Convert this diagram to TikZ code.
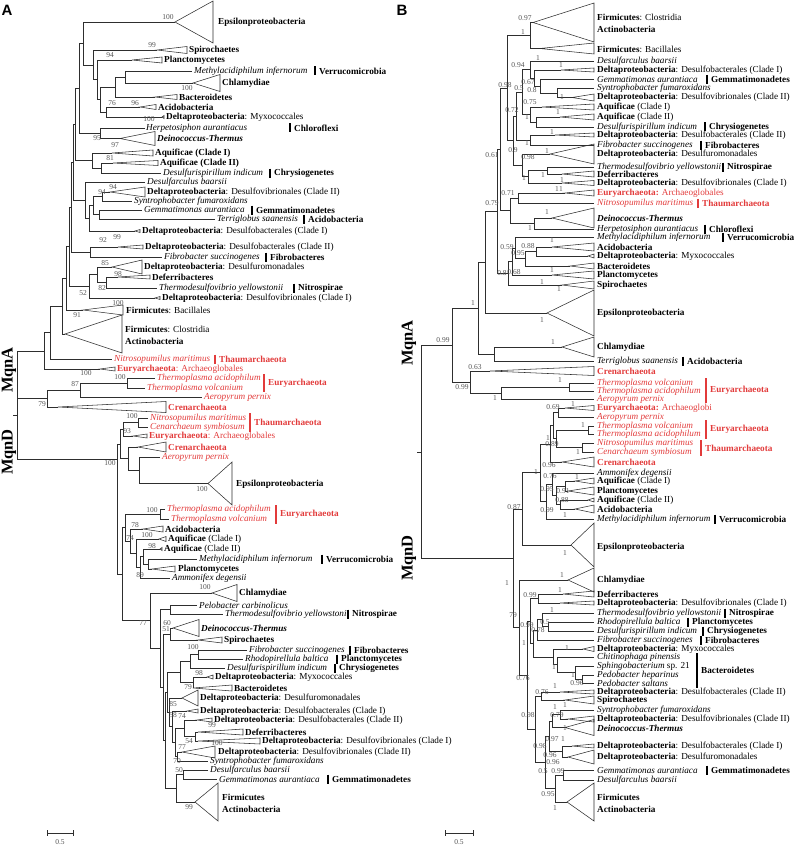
\documentclass[tikz,border=0pt]{standalone}
\usepackage{fontspec}
\setmainfont{Liberation Serif}
\newfontfamily\panelfont{Liberation Sans}
\usepackage{xcolor}
\definecolor{archred}{HTML}{E23B3B}
\definecolor{brgray}{HTML}{2E2E2E}
\definecolor{bsgray}{HTML}{555555}
\newcommand{\lblfont}{\fontsize{9.2}{10}\selectfont}
\newcommand{\bsfont}{\fontsize{7.5}{8}\selectfont}
\newcommand{\dprot}[1]{\textbf{Deltaproteobacteria}: #1}
\newcommand{\archtxt}[1]{\textcolor{archred}{#1}}
% one bifurcation: node x, child 1 (x,y), child 2 (x,y)
\newcommand{\cladeline}[5]{\draw[br] (#2,#3) -| (#1,#5) -- (#4,#5);}

\begin{document}
\begin{tikzpicture}[x=1pt, y=-1pt,
    br/.style={line width=0.55pt, draw=brgray},
    lab/.style={anchor=west, inner sep=0pt, font=\lblfont},
    bs/.style={inner sep=0pt, font=\bsfont, text=bsgray},
    grp/.style={line width=1.3pt},
    mqn/.style={rotate=90, inner sep=0pt, font=\fontsize{16.5}{17}\selectfont\bfseries}]
  \useasboundingbox (0,0) rectangle (794,848);

  % ---------- panel A ----------
  \node[font=\panelfont\fontsize{15}{15}\selectfont\bfseries] (pA) at (7,10) {A};
  \node[mqn] (mqnaA) at (9,370) {MqnA};
  \node[mqn] (mqndA) at (9,452) {MqnD};

  % collapsed clades: apex x / y / right x / half height
  \foreach \a/\m/\r/\h in {175/22/213/21, 157/50/187/3.5, 132/60/162/3, 193/83/220/8.5,
      155/97/177/2.5, 140/107/156/2.5, 162/117/164/1.5, 120/138.5/155/7, 112/153/153/3,
      113/163/158/2.5, 110/192/145/5, 135/231/140/1.5, 118/247/143/2, 112/267/142/7,
      118/277/150/2, 155/298/160/1.5, 83/310/123/5, 65/334/122/19, 100/369/115/2,
      58/407/166/5.5, 133/436/147/2, 138/447/166/5, 208/483.5/232/21.5, 143/529/163/3,
      159/539/166/2.5, 160/549/162/1.5, 152/569/175/3, 212/593/237/8.5, 173/628/199/8.5,
      198/640/222/3, 207/677/213/2, 193/688/232/3, 182/698/198/8, 187/711/198/2,
      197/720/212/2, 198/732/243/3, 198/741/260/3, 182/752/215/6, 195/802/218/19}
    \draw[br] (\a,\m) -- (\r,\m-\h) -- (\r,\m+\h) -- cycle;

  % MqnA
  \cladeline{125}{192}{71}{193}{83}
  \cladeline{115}{125}{77}{155}{97}
  \cladeline{106}{140}{107}{162}{117}
  \cladeline{100}{115}{87}{106}{112}
  \cladeline{97}{132}{60}{100}{99.5}
  \cladeline{93}{157}{50}{97}{79.75}
  \cladeline{83}{175}{22}{93}{64.9}
  \cladeline{100}{145}{128}{120}{138.5}
  \cladeline{79}{83}{43.45}{100}{133.25}
  \cladeline{101}{113}{163}{161}{173}
  \cladeline{92}{112}{153}{101}{168}
  \cladeline{75}{79}{88.35}{92}{160.5}
  \cladeline{102}{110}{192}{132}{201}
  \cladeline{99}{142}{210}{215}{219}
  \cladeline{93}{102}{196.5}{99}{214.5}
  \cladeline{89}{93}{205.5}{135}{231}
  \cladeline{85}{145}{182}{89}{218.25}
  \cladeline{73}{75}{124.4}{85}{200.1}
  \cladeline{90}{118}{247}{162}{257}
  \cladeline{71}{73}{162.25}{90}{252}
  \cladeline{106}{118}{277}{157}{288}
  \cladeline{97}{112}{267}{106}{282.5}
  \cladeline{89}{97}{274.75}{155}{298}
  \cladeline{69}{71}{207.1}{89}{286.4}
  \cladeline{66}{69}{246.75}{83}{310}
  \cladeline{62}{66}{278.4}{65}{334}
  \cladeline{50}{62}{306.2}{112}{359}
  \cladeline{44}{50}{332.6}{100}{369}
  \cladeline{127}{155}{378}{145}{388}
  \cladeline{80}{127}{383}{202}{397}
  \cladeline{47}{80}{390}{58}{407}
  % root
  \draw[br] (44,350.8) -| (17,459) -- (117,459);
  \draw[br] (17,398.5) -- (47,398.5);
  \draw[br] (13,415) -- (17,415);
  % MqnD
  \cladeline{138}{148}{418}{148}{427}
  \cladeline{123}{138}{422.5}{133}{436}
  \cladeline{139}{160}{457}{208}{483.5}
  \cladeline{128}{138}{447}{139}{470.25}
  \cladeline{120}{123}{429.25}{128}{458.6}
  \cladeline{160}{165}{509}{169}{519}
  \cladeline{148}{197}{559}{152}{569}
  \cladeline{143}{160}{549}{148}{564}
  \cladeline{140}{143}{556.5}{170}{578}
  \cladeline{136}{159}{539}{140}{567.25}
  \cladeline{130}{143}{529}{136}{553.1}
  \cladeline{125}{160}{514}{130}{541}
  \cladeline{170}{197}{605}{223}{614}
  \cladeline{170}{173}{628}{198}{640}
  \cladeline{198}{247}{650}{243}{659}
  \cladeline{190}{198}{654.5}{225}{668}
  \cladeline{193}{207}{677}{193}{688}
  \cladeline{180}{190}{661.25}{193}{682.5}
  \cladeline{195}{198}{732}{198}{741}
  \cladeline{184}{197}{720}{195}{736.5}
  \cladeline{177}{182}{752}{208}{761}
  \cladeline{175}{184}{728.25}{177}{756.5}
  \cladeline{172}{187}{711}{175}{742.4}
  \cladeline{169}{182}{698}{172}{726.7}
  \cladeline{167}{180}{671.9}{169}{712.35}
  \cladeline{183}{208}{770}{217}{779}
  \cladeline{176}{183}{774.5}{195}{802}
  \cladeline{165}{167}{692.1}{176}{788.25}
  \cladeline{163}{170}{634}{165}{740.2}
  \cladeline{160}{170}{609.5}{163}{687.1}
  \cladeline{150}{212}{593}{160}{648.3}
  \cladeline{122}{125}{527.5}{150}{620.65}
  \cladeline{117}{120}{443.9}{122}{574.1}

  \foreach \x/\y/\t [count=\i] in {
      218/22/{\textbf{Epsilonproteobacteria}}, 189/50/{\textbf{Spirochaetes}},
      164/60/{\textbf{Planctomycetes}}, 194/71/{\textit{Methylacidiphilum infernorum}},
      222/83/{\textbf{Chlamydiae}}, 179/97/{\textbf{Bacteroidetes}},
      158/107/{\textbf{Acidobacteria}}, 166/117/{\dprot{Myxococcales}},
      146/128/{\textit{Herpetosiphon aurantiacus}}, 157/138.5/{\textbf{\textit{Deinococcus-Thermus}}},
      155/153/{\textbf{Aquificae (Clade I)}}, 160/163/{\textbf{Aquificae (Clade II)}},
      163/173/{\textit{Desulfurispirillum indicum}}, 147/182/{\textit{Desulfarculus baarsii}},
      147/192/{\dprot{Desulfovibrionales (Clade II)}}, 134/201/{\textit{Syntrophobacter fumaroxidans}},
      144/210/{\textit{Gemmatimonas aurantiaca}}, 217/219/{\textit{Terriglobus saanensis}},
      142/231/{\dprot{Desulfobacterales (Clade I)}}, 145/247/{\dprot{Desulfobacterales (Clade II)}},
      164/257/{\textit{Fibrobacter succinogenes}}, 144/267/{\dprot{Desulfuromonadales}},
      152/277/{\textbf{Deferribacteres}}, 159/288/{\textit{Thermodesulfovibrio yellowstonii}},
      162/298/{\dprot{Desulfovibrionales (Clade I)}}, 126/310/{\textbf{Firmicutes}: Bacillales},
      125/329/{\textbf{Firmicutes}: Clostridia}, 125/341/{\textbf{Actinobacteria}},
      114/359/{\archtxt{\textit{Nitrosopumilus maritimus}}},
      117/369/{\archtxt{\textbf{Euryarchaeota}: Archaeoglobales}},
      157/378/{\archtxt{\textit{Thermoplasma acidophilum}}},
      147/388/{\archtxt{\textit{Thermoplasma volcanium}}},
      204/397/{\archtxt{\textit{Aeropyrum pernix}}}, 168/407/{\archtxt{\textbf{Crenarchaeota}}},
      150/418/{\archtxt{\textit{Nitrosopumilus maritimus}}},
      150/427/{\archtxt{\textit{Cenarchaeum symbiosum}}},
      149/436/{\archtxt{\textbf{Euryarchaeota}: Archaeoglobales}},
      168/447/{\archtxt{\textbf{Crenarchaeota}}}, 162/457/{\archtxt{\textit{Aeropyrum pernix}}},
      236/484/{\textbf{Epsilonproteobacteria}},
      167/509/{\archtxt{\textit{Thermoplasma acidophilum}}},
      171/519/{\archtxt{\textit{Thermoplasma volcanium}}},
      165/529/{\textbf{Acidobacteria}}, 168/539/{\textbf{Aquificae} (Clade I)},
      164/549/{\textbf{Aquificae} (Clade II)}, 199/559/{\textit{Methylacidiphilum infernorum}},
      178/569/{\textbf{Planctomycetes}}, 172/578/{\textit{Ammonifex degensii}},
      239/593/{\textbf{Chlamydiae}}, 199/605/{\textit{Pelobacter carbinolicus}},
      225/614/{\textit{Thermodesulfovibrio yellowstonii}}, 201/628/{\textbf{\textit{Deinococcus-Thermus}}},
      224/640/{\textbf{Spirochaetes}}, 249/650/{\textit{Fibrobacter succinogenes}},
      245/659/{\textit{Rhodopirellula baltica}}, 227/668/{\textit{Desulfurispirillum indicum}},
      215/677/{\dprot{Myxococcales}}, 234/688/{\textbf{Bacteroidetes}},
      200/698/{\dprot{Desulfuromonadales}}, 200/711/{\dprot{Desulfobacterales (Clade I)}},
      214/720/{\dprot{Desulfobacterales (Clade II)}}, 245/732/{\textbf{Deferribacteres}},
      262/741/{\dprot{Desulfovibrionales (Clade I)}}, 218/752/{\dprot{Desulfovibrionales (Clade II)}},
      210/761/{\textit{Syntrophobacter fumaroxidans}}, 210/770/{\textit{Desulfarculus baarsii}},
      219/779/{\textit{Gemmatimonas aurantiaca}}, 222/797/{\textbf{Firmicutes}},
      222/809/{\textbf{Actinobacteria}}}
    \node[lab] (la\i) at (\x,\y) {\t};

  % group bars
  \foreach \x/\ya/\yb/\c/\t [count=\i] in {
      315/66.5/75.5/black/Verrucomicrobia, 290/123.5/132.5/black/Chloroflexi,
      270/168.5/177.5/black/Chrysiogenetes, 252/205.5/214.5/black/Gemmatimonadetes,
      304/214.5/223.5/black/Acidobacteria, 266/252.5/261.5/black/Fibrobacteres,
      294/283.5/292.5/black/Nitrospirae, 215/354.5/363.5/archred/Thaumarchaeota,
      264/374/392/archred/Euryarchaeota, 250/413/432/archred/Thaumarchaeota,
      276/505/524/archred/Euryarchaeota, 322/554.5/563.5/black/Verrucomicrobia,
      348/609.5/618.5/black/Nitrospirae, 350/645.5/654.5/black/Fibrobacteres,
      337/654.5/663.5/black/Planctomycetes, 335/663.5/672.5/black/Chrysiogenetes,
      328/774.5/783.5/black/Gemmatimonadetes}
    {\draw[grp, draw=\c] (\x,\ya) -- (\x,\yb);
     \node[lab, text=\c, font=\lblfont\bfseries] (ga\i) at ({\x+4},{(\ya+\yb)/2}) {\t};}

  \foreach \x/\y/\t [count=\i] in {168/17/100, 152/45/99, 110/55/94, 187/88/100, 112/103/76,
      135/103/96, 149/119/100, 97/138/95, 115/145/97, 110/158/81, 113/187/94, 102/192/94,
      103/240/92, 117/237/99, 105/263/85, 118/274/98, 102/288/82, 83/293/52, 118/303/100,
      77/315/91, 86/373/100, 120/377/100, 75/384/87, 42/404/79, 132/416/100, 127/431/93,
      110/463/100, 202/489/100, 152/510/100, 135/525/78, 147/535/100, 130/538/74,
      152/546/98, 140/575/89, 205/587/100, 143/623/77, 167/623/60, 166/629/51,
      193/647/100, 199/673/98, 188/687/79, 173/704/85, 173/715/58, 182/716/74,
      212/725/99, 189/741/54, 217/743/100, 182/747/77, 177/761/70, 179/770/50, 189/807/99}
    \node[bs] (bsa\i) at (\x,\y) {\t};

  \draw[br] (47,833) -- (73,833);
  \draw[br] (47,830) -- (47,836);
  \draw[br] (73,830) -- (73,836);
  \node[bs] (scaleA) at (60,842) {0.5};

  % ---------- panel B ----------
  \node[font=\panelfont\fontsize{15}{15}\selectfont\bfseries] (pB) at (402,10) {B};
  \node[mqn] (mqnaB) at (409,343) {MqnA};
  \node[mqn] (mqndB) at (409,558) {MqnD};

  \foreach \a/\m/\h in {533/22.5/19.5, 540/48.5/5.5, 561/70/2, 572/97.5/3.5, 542/107/3,
      560/117/3, 555/135/2, 550/154/10, 562/174/3, 562/183/2.5, 565/193/3, 552/218/10,
      552/247/4, 588/256/2, 570/266/3, 552/275/4, 562/285/4, 547/313/23, 562/347/10,
      490/371/4.5, 565/408/2.5, 562/462/5, 575/481/3, 568/491/4, 588/500/2, 575/509/4,
      571/545/22, 568/580/12, 563/594/3, 560/603/2, 583/649/2.5, 560/692/2, 565/700/4,
      568/719/3, 565/727.5/8, 572/746/2, 568/757/7, 567/802/19}
    \draw[br] (\a,\m) -- (594,\m-\h) -- (594,\m+\h) -- cycle;

  % MqnA
  \cladeline{530}{533}{22.5}{540}{48.5}
  \cladeline{557}{594}{88.5}{572}{97.5}
  \cladeline{540}{594}{79.5}{557}{93}
  \cladeline{534}{561}{70}{540}{86.25}
  \cladeline{530}{594}{61}{534}{78.1}
  \cladeline{536}{560}{117}{594}{127}
  \cladeline{530}{542}{107}{536}{122}
  \cladeline{522}{530}{69.6}{530}{114.5}
  \cladeline{530}{555}{135}{594}{145}
  \cladeline{516}{522}{92}{530}{140}
  \cladeline{547}{594}{167}{562}{174}
  \cladeline{528}{547}{170.5}{562}{183}
  \cladeline{522}{550}{154}{528}{176.75}
  \cladeline{513}{516}{116}{522}{165.4}
  \cladeline{507}{530}{35.5}{513}{140.7}
  \cladeline{518}{565}{193}{594}{203}
  \cladeline{534}{552}{218}{594}{229}
  \cladeline{510}{518}{198}{534}{223.5}
  \cladeline{500}{507}{88.1}{510}{210.75}
  \cladeline{536}{552}{247}{588}{256}
  \cladeline{525}{536}{251.5}{570}{266}
  \cladeline{515}{594}{237}{525}{258.75}
  \cladeline{512}{515}{247.9}{552}{275}
  \cladeline{508}{512}{261.4}{562}{285}
  \cladeline{497}{500}{149.4}{508}{273.2}
  \cladeline{485}{497}{211.3}{547}{313}
  \cladeline{494}{562}{347}{594}{361}
  \cladeline{478}{485}{262.2}{494}{354}
  \cladeline{569}{594}{383}{594}{391}
  \cladeline{501}{569}{387}{594}{399}
  \cladeline{470}{490}{371}{501}{393}
  \cladeline{452}{478}{308.1}{470}{382}
  % root
  \draw[br] (452,345) -| (421,558) -- (513,558);
  \draw[br] (417,452) -- (421,452);
  % MqnD
  \cladeline{558}{565}{408}{594}{417}
  \cladeline{588}{594}{426}{594}{434}
  \cladeline{582}{594}{443}{594}{452}
  \cladeline{556}{588}{430}{582}{447.5}
  \cladeline{553}{558}{412.5}{556}{438.75}
  \cladeline{550}{553}{425.6}{562}{462}
  \cladeline{565}{575}{481}{568}{491}
  \cladeline{560}{588}{500}{575}{509}
  \cladeline{556}{565}{486}{560}{504.5}
  \cladeline{552}{594}{473}{556}{495.25}
  \cladeline{546}{552}{484.1}{594}{519}
  \cladeline{540}{550}{443.8}{546}{501.6}
  \cladeline{522}{540}{472.7}{571}{545}
  \cladeline{538}{563}{594}{560}{603}
  \cladeline{548}{594}{622}{594}{631}
  \cladeline{542}{594}{613}{548}{626.5}
  \cladeline{537}{542}{619.75}{594}{640}
  \cladeline{582}{594}{675}{594}{683}
  \cladeline{575}{594}{666}{582}{679}
  \cladeline{557}{594}{657}{575}{672.5}
  \cladeline{553}{583}{649}{557}{664.75}
  \cladeline{533}{537}{629.9}{553}{656.9}
  \cladeline{530}{538}{598.5}{533}{643.4}
  \cladeline{560}{594}{710}{568}{719}
  \cladeline{552}{560}{714.5}{565}{727.5}
  \cladeline{562}{572}{746}{568}{757}
  \cladeline{549}{552}{721}{562}{751.5}
  \cladeline{563}{594}{770}{594}{780}
  \cladeline{555}{563}{775}{567}{802}
  \cladeline{545}{549}{736.25}{555}{788.5}
  \cladeline{541}{560}{692}{565}{700}
  \cladeline{535}{541}{696}{545}{762.4}
  \cladeline{527}{530}{621}{535}{729.2}
  \cladeline{519}{568}{580}{527}{675.1}
  \cladeline{513}{522}{508.9}{519}{627.5}

  \foreach \y/\t [count=\i] in {
      17/{\textbf{Firmicutes}: Clostridia}, 29/{\textbf{Actinobacteria}},
      49/{\textbf{Firmicutes}: Bacillales}, 61/{\textit{Desulfarculus baarsii}},
      70/{\dprot{Desulfobacterales (Clade I)}}, 79.5/{\textit{Gemmatimonas aurantiaca}},
      88.5/{\textit{Syntrophobacter fumaroxidans}}, 97.5/{\dprot{Desulfovibrionales (Clade II)}},
      107/{\textbf{Aquificae} (Clade I)}, 117/{\textbf{Aquificae} (Clade II)},
      127/{\textit{Desulfurispirillum indicum}}, 135/{\dprot{Desulfobacterales (Clade II)}},
      145/{\textit{Fibrobacter succinogenes}}, 154/{\dprot{Desulfuromonadales}},
      167/{\textit{Thermodesulfovibrio yellowstonii}}, 174/{\textbf{Deferribacteres}},
      183/{\dprot{Desulfovibrionales (Clade I)}},
      193/{\archtxt{\textbf{Euryarchaeota:} Archaeoglobales}},
      203/{\archtxt{\textit{Nitrosopumilus maritimus}}}, 218/{\textbf{\textit{Deinococcus-Thermus}}},
      229/{\textit{Herpetosiphon aurantiacus}}, 237/{\textit{Methylacidiphilum infernorum}},
      247/{\textbf{Acidobacteria}}, 256/{\dprot{Myxococcales}}, 266/{\textbf{Bacteroidetes}},
      275/{\textbf{Planctomycetes}}, 285/{\textbf{Spirochaetes}}, 313/{\textbf{Epsilonproteobacteria}},
      347/{\textbf{Chlamydiae}}, 361/{\textit{Terriglobus saanensis}},
      371/{\archtxt{\textbf{Crenarchaeota}}}, 383/{\archtxt{\textit{Thermoplasma volcanium}}},
      391/{\archtxt{\textit{Thermoplasma acidophilum}}}, 399/{\archtxt{\textit{Aeropyrum pernix}}},
      408/{\archtxt{\textbf{Euryarchaeota:} Archaeoglobi}}, 417/{\archtxt{\textit{Aeropyrum pernix}}},
      426/{\archtxt{\textit{Thermoplasma volcanium}}}, 434/{\archtxt{\textit{Thermoplasma acidophilum}}},
      443/{\archtxt{\textit{Nitrosopumilus maritimus}}}, 452/{\archtxt{\textit{Cenarchaeum symbiosum}}},
      462/{\archtxt{\textbf{Crenarchaeota}}}, 473/{\textit{Ammonifex degensii}},
      481/{\textbf{Aquificae} (Clade I)}, 491/{\textbf{Planctomycetes}},
      500/{\textbf{Aquificae} (Clade II)}, 509/{\textbf{Acidobacteria}},
      519/{\textit{Methylacidiphilum infernorum}}, 547/{\textbf{Epsilonproteobacteria}},
      580/{\textbf{Chlamydiae}}, 594/{\textbf{Deferribacteres}},
      603/{\dprot{Desulfovibrionales (Clade I)}}, 613/{\textit{Thermodesulfovibrio yellowstonii}},
      622/{\textit{Rhodopirellula baltica}}, 631/{\textit{Desulfurispirillum indicum}},
      640/{\textit{Fibrobacter succinogenes}}, 649/{\dprot{Myxococcales}},
      657/{\textit{Chitinophaga pinensis}}, 666/{\textit{Sphingobacterium} sp. 21},
      675/{\textit{Pedobacter heparinus}}, 683/{\textit{Pedobacter saltans}},
      692/{\dprot{Desulfobacterales (Clade II)}}, 700/{\textbf{Spirochaetes}},
      710/{\textit{Syntrophobacter fumaroxidans}}, 719/{\dprot{Desulfovibrionales (Clade II)}},
      728.5/{\textbf{\textit{Deinococcus-Thermus}}}, 746/{\dprot{Desulfobacterales (Clade I)}},
      757/{\dprot{Desulfuromonadales}}, 770/{\textit{Gemmatimonas aurantiaca}},
      780/{\textit{Desulfarculus baarsii}}, 797/{\textbf{Firmicutes}}, 809/{\textbf{Actinobacteria}}}
    \node[lab] (lb\i) at (597,\y) {\t};

  \foreach \x/\ya/\yb/\c/\t [count=\i] in {
      707/75/84/black/Gemmatimonadetes, 705/122.5/131.5/black/Chrysiogenetes,
      701/140.5/149.5/black/Fibrobacteres, 723/162.5/171.5/black/Nitrospirae,
      698/198.5/207.5/archred/Thaumarchaeota, 705/224.5/233.5/black/Chloroflexi,
      723/232.5/241.5/black/Verrucomicrobia, 683/356.5/365.5/black/Acidobacteria,
      706/378/403/archred/Euryarchaeota, 706/420/439/archred/Euryarchaeota,
      701/440/456/archred/Thaumarchaeota, 715/514.5/523.5/black/Verrucomicrobia,
      725/608.5/617.5/black/Nitrospirae, 688/617.5/626.5/black/Planctomycetes,
      703/626.5/635.5/black/Chrysiogenetes, 701/635.5/644.5/black/Fibrobacteres,
      697/653/688/black/Bacteroidetes, 707/765.5/774.5/black/Gemmatimonadetes}
    {\draw[grp, draw=\c] (\x,\ya) -- (\x,\yb);
     \node[lab, text=\c, font=\lblfont\bfseries] (gb\i) at ({\x+4},{(\ya+\yb)/2}) {\t};}

  \foreach \x/\y/\t [count=\i] in {525/18/0.97, 523/32/1, 538/58/1, 518/65/0.94, 561/65/1,
      505/85/0.98, 519/88/0.5, 528/82/0.67, 532/90/0.8, 562/97/1, 530/102/0.75, 512/110/0.72,
      558/112/1, 527/117/1, 552/132/1, 527/143/1, 492/155/0.61, 513/150/0.9, 547/151/1,
      528/157/0.98, 543/175/1, 524/178/1, 562/180/1, 557/189/1, 561/189/1, 508/193/0.71,
      492/203/0.79, 547/212/1, 530/228/1, 552/240/1, 528/246/0.88, 507/247/0.59,
      518/253/0.95, 552/270/1, 502/273/0.8, 514/272/0.68, 542/282/1, 559/289/1, 473/303/1,
      542/320/1, 443/340/0.99, 553/342/1, 475/367/0.63, 560/380/1, 462/387/0.99, 495/398/1,
      553/407/0.69, 573/404/1, 583/425/1, 548/438/1, 552/444/0.89, 578/452/1, 549/465/0.96,
      536/472/1, 550/476/0.76, 577/477/1, 547/489/0.95, 563/491/0.91, 562/500/0.88,
      514/507/0.87, 547/510/0.99, 565/515/1, 565/553/1, 507/583/1, 562/575/1, 560/590/1,
      530/595/0.99, 513/615/79, 552/610/1, 527/625/0.99, 545/622/0.5, 538/630/0.78,
      524/643/1, 567/648/1, 554/667/1, 573/675/1, 577/683/0.96, 523/678/0.76, 555/686/1,
      542/692/0.76, 555/707/1, 565/705/1, 528/715/0.98, 557/715/0.79, 565/728/1,
      552/739/0.97, 563/739/1, 540/746/0.98, 550/755/0.96, 553/762/0.96, 543/771/0.5,
      558/771/0.99, 548/794/0.95, 555/808/1}
    \node[bs] (bsb\i) at (\x,\y) {\t};

  \draw[br] (445,833) -- (473,833);
  \draw[br] (445,830) -- (445,836);
  \draw[br] (473,830) -- (473,836);
  \node[bs] (scaleB) at (459,842) {0.5};
\end{tikzpicture}
\end{document}
